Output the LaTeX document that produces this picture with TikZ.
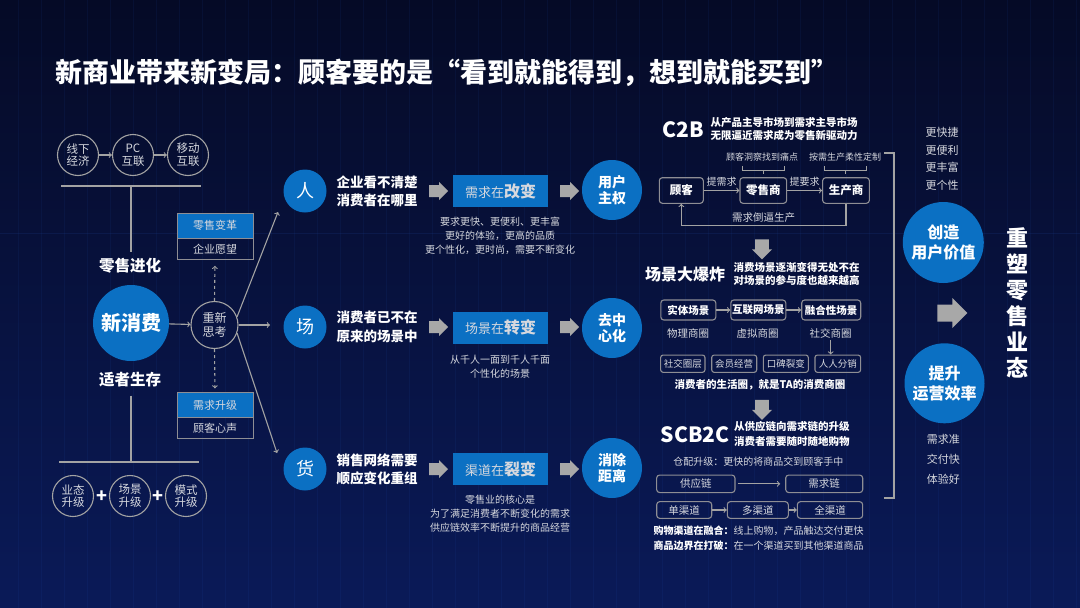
\documentclass[tikz,border=0pt]{standalone}
\usepackage{fontspec}
\setmainfont{Noto Sans CJK SC}
\usepackage{xcolor}
\usetikzlibrary{positioning, shapes.arrows}

\definecolor{bgtop}{HTML}{050A26}
\definecolor{bgbot}{HTML}{0A1A58}
\definecolor{gridblue}{HTML}{2F6BE0}
\definecolor{retailblue}{HTML}{0B70C3}
\definecolor{linegray}{HTML}{A3A3A3}
\definecolor{boxgray}{HTML}{8E8E94}
\definecolor{textgray}{HTML}{D6D8DE}
\definecolor{arrowgray}{HTML}{A8A8A8}

\begin{document}
\begin{tikzpicture}[x=1pt, y=-1pt,
  bar/.style={draw=linegray, line width=1.5pt},
  arrowline/.style={draw=linegray, line width=1.1pt},
  stagecircle/.style={circle, draw=linegray, line width=1.1pt, minimum size=41, inner sep=0,
    align=center, text=textgray, font=\fontsize{11.5}{12.7}\selectfont},
  bigblue/.style={circle, fill=retailblue, inner sep=0, align=center, text=white},
  keycircle/.style={bigblue, minimum size=43, font=\fontsize{18}{18}\selectfont},
  resultcircle/.style={bigblue, minimum size=60, font=\bfseries\fontsize{14}{16}\selectfont},
  valuecircle/.style={bigblue, minimum size=81, font=\bfseries\fontsize{16}{20}\selectfont},
  headbox/.style={fill=retailblue, draw=boxgray, line width=0.8pt, minimum width=76, minimum height=25,
    inner sep=0, text=textgray, font=\fontsize{11}{11}\selectfont},
  bodybox/.style={draw=boxgray, line width=1pt, minimum width=76, minimum height=21,
    inner sep=0, text=textgray, font=\fontsize{11}{11}\selectfont},
  changebox/.style={fill=retailblue, minimum width=95, minimum height=32, inner sep=0,
    text=textgray, font=\fontsize{13}{13}\selectfont},
  rowtext/.style={anchor=west, align=left, inner sep=0, text=white,
    font=\bfseries\fontsize{13.5}{18.3}\selectfont},
  desc/.style={align=center, inner sep=0, text=textgray, font=\fontsize{10}{14}\selectfont},
  blockarrow/.style={single arrow, fill=arrowgray, minimum height=19, minimum width=18,
    single arrow head extend=3, inner sep=5.8},
  downarrow/.style={blockarrow, shape border rotate=270, minimum height=20, minimum width=20,
    inner sep=6.3},
  heading/.style={anchor=west, inner sep=0, text=white, font=\bfseries\fontsize{21}{21}\selectfont},
  subhead/.style={anchor=west, align=left, inner sep=0, text=white},
  rolebox/.style={draw=boxgray, rounded corners=3, line width=1.1pt, minimum height=25.6,
    inner sep=0, text=white, font=\bfseries\fontsize{11.5}{11.5}\selectfont},
  scenebox/.style={rolebox, minimum height=20, font=\bfseries\fontsize{10.5}{10.5}\selectfont},
  tagbox/.style={rolebox, rounded corners=2.5, minimum height=17.3, text=textgray,
    font=\fontsize{9.5}{9.5}\selectfont},
  chainbox/.style={rolebox, minimum height=17.5, text=textgray, font=\fontsize{10.5}{10.5}\selectfont},
  note/.style={inner sep=0, text=textgray, font=\fontsize{10.5}{12}\selectfont},
  smallnote/.style={inner sep=0, text=textgray, font=\fontsize{9}{9}\selectfont},
  plus/.style={inner sep=0, text=white, font=\bfseries\fontsize{18}{18}\selectfont}
]
  \useasboundingbox (0,0) rectangle (1080,608);
  \shade[top color=bgtop, bottom color=bgbot] (0,0) rectangle (1080,608);

  % faint background lines
  \foreach \x in {18,41,...,1080} {
    \draw[gridblue, opacity=0.07, line width=0.6pt] (\x,0) -- (\x,608);
  }
  \draw[gridblue, opacity=0.10, line width=0.6pt] (0,233) -- (1080,233);

  % title
  \node[anchor=west, inner sep=0, text=white, font=\bfseries\fontsize{27}{27}\selectfont] (title)
    at (55,73) {新商业带来新变局：顾客要的是“看到就能得到，想到就能买到”};

  % retail evolution
  \node[stagecircle] (offline) at (78,155) {线下\\经济};
  \node[stagecircle] (pc) at (133,155) {PC\\互联};
  \node[stagecircle] (mobile) at (188,155) {移动\\互联};
  \draw[arrowline, ->] (offline) -- (pc);
  \draw[arrowline, ->] (pc) -- (mobile);

  \coordinate (evoL) at (61,186);
  \coordinate (evoR) at (201,186);
  \coordinate (evoT) at (131,186);
  \draw[bar] (evoL) -- (evoR);
  \node[inner sep=0, text=white, font=\bfseries\fontsize{15.5}{15.5}\selectfont] (evolve) at (130,266) {零售进化};
  \draw[bar, shorten >=6pt] (evoT) -- (evolve.north -| evoT);

  \node[bigblue, minimum size=76, font=\bfseries\fontsize{20}{20}\selectfont] (newcons) at (131,323) {新消费};
  \node[inner sep=0, text=white, font=\bfseries\fontsize{15.5}{15.5}\selectfont] (survive) at (130,380) {适者生存};

  \coordinate (surB) at (131,462);
  \coordinate (surL) at (59,462);
  \coordinate (surR) at (199,462);
  \draw[bar, shorten <=8pt] (survive.south -| surB) -- (surB);
  \draw[bar] (surL) -- (surR);

  \node[stagecircle] (format) at (73,496) {业态\\升级};
  \node[stagecircle] (scenery) at (130,496) {场景\\升级};
  \node[stagecircle] (model) at (186,496) {模式\\升级};
  \node[plus] (plusA) at (101.5,497) {+};
  \node[plus] (plusB) at (158,497) {+};

  % rethink
  \node[stagecircle, minimum size=47, font=\fontsize{12}{14.7}\selectfont] (think) at (214.5,325) {重新\\思考};
  \draw[arrowline, ->] (newcons) -- (think);

  \node[headbox] (reformhead) at (215,225.8) {零售变革};
  \node[bodybox] (reformbody) at (215,248.8) {企业愿望};
  \node[headbox] (demandhead) at (215,405.3) {需求升级};
  \node[bodybox] (demandbody) at (215,428.3) {顾客心声};
  \draw[arrowline, dashed, ->, shorten >=6pt] (think.north) -- (reformbody.south);
  \draw[arrowline, dashed, ->, shorten >=4pt] (think.south) -- (demandhead.north);

  \coordinate (fanA) at (278,212);
  \coordinate (fanB) at (270,325);
  \coordinate (fanC) at (277,453);
  \draw[arrowline, ->] (think.20) -- (fanA);
  \draw[arrowline, ->] (think.east) -- (fanB);
  \draw[arrowline, ->] (think.-20) -- (fanC);

  % people
  \node[keycircle] (people) at (305,191) {人};
  \node[rowtext] (peopletxt) at (336.5,191) {企业看不清楚\\消费者在哪里};
  \node[blockarrow] (peoplearrA) at (435.5,191) {};
  \node[changebox] (peoplebox) at (500.5,191) {需求在{\bfseries\fontsize{16}{16}\selectfont 改变}};
  \node[blockarrow] (peoplearrB) at (566.5,191) {};
  \node[resultcircle] (peopleres) at (612,190) {用户\\主权};
  \node[desc] (peopledesc) at (500,236) {要求更快、更便利、更丰富\\更好的体验，更高的品质\\更个性化，更时尚，需要不断变化};

  % place
  \node[keycircle] (place) at (305,327) {场};
  \node[rowtext] (placetxt) at (336.5,327) {消费者已不在\\原来的场景中};
  \node[blockarrow] (placearrA) at (435.5,327) {};
  \node[changebox] (placebox) at (500.5,327.5) {场景在{\bfseries\fontsize{16}{16}\selectfont 转变}};
  \node[blockarrow] (placearrB) at (566.5,327) {};
  \node[resultcircle] (placeres) at (612,328) {去中\\心化};
  \node[desc] (placedesc) at (500,367) {从千人一面到千人千面\\个性化的场景};

  % goods
  \node[keycircle] (goods) at (305,469) {货};
  \node[rowtext] (goodstxt) at (336.5,469.5) {销售网络需要\\顺应变化重组};
  \node[blockarrow] (goodsarrA) at (435.5,469) {};
  \node[changebox] (goodsbox) at (500.5,469) {渠道在{\bfseries\fontsize{16}{16}\selectfont 裂变}};
  \node[blockarrow] (goodsarrB) at (566.5,469) {};
  \node[resultcircle] (goodsres) at (612,468) {消除\\距离};
  \node[desc] (goodsdesc) at (500,513.3) {零售业的核心是\\为了满足消费者不断变化的需求\\供应链效率不断提升的商品经营};

  % C2B
  \node[heading] (c2b) at (662,130) {C2B};
  \node[subhead, font=\bfseries\fontsize{10.5}{12.6}\selectfont] (c2btxt) at (710.5,129.3)
    {从产品主导市场到需求主导市场\\无限逼近需求成为零售新驱动力};
  \node[smallnote] (insight) at (762,156.7) {顾客洞察找到痛点};
  \node[smallnote] (flexible) at (845,156.7) {按需生产柔性定制};
  \draw[arrowline, line width=0.9pt] (742,166) -- (742,170.5) -- (784,170.5) -- (784,166);
  \draw[arrowline, line width=0.9pt] (763,170.5) -- (763,173.5);
  \draw[arrowline, line width=0.9pt] (824.5,166) -- (824.5,170.5) -- (866.5,170.5) -- (866.5,166);
  \draw[arrowline, line width=0.9pt] (845.5,170.5) -- (845.5,173.5);

  \node[rolebox, minimum width=44] (customer) at (681.3,190.5) {顾客};
  \node[rolebox, minimum width=46.7] (retailer) at (763.3,190.5) {零售商};
  \node[rolebox, minimum width=46.7] (producer) at (846,190.5) {生产商};
  \draw[arrowline, ->] (customer) -- node[smallnote, above=4pt, font=\fontsize{10}{10}\selectfont] {提需求} (retailer);
  \draw[arrowline, ->] (retailer) -- node[smallnote, above=4pt, font=\fontsize{10}{10}\selectfont] {提要求} (producer);
  \draw[arrowline, ->] (producer.south) -- ++(0,22)
    -| node[smallnote, above=3pt, pos=0.25, font=\fontsize{10.5}{10.5}\selectfont] {需求倒逼生产} (customer.south);

  \node[downarrow] (c2bdown) at (762,246) {};

  % scene explosion
  \node[inner sep=0, anchor=west, text=white, font=\bfseries\fontsize{16}{16}\selectfont] (boom) at (645,274.3) {场景大爆炸};
  \node[subhead, font=\bfseries\fontsize{10.5}{12.6}\selectfont] (boomtxt) at (733.3,273.8)
    {消费场景逐渐变得无处不在\\对场景的参与度也越来越高};
  \node[scenebox, minimum width=55] (physical) at (688.3,310) {实体场景};
  \node[scenebox, minimum width=55] (online) at (758.3,310) {互联网场景};
  \node[scenebox, minimum width=59] (fusion) at (831.2,310) {融合性场景};
  \draw[arrowline, ->] (physical) -- (online);
  \draw[arrowline, ->] (online) -- (fusion);
  \node[note] (physicallbl) at (688,333.3) {物理商圈};
  \node[note] (onlinelbl) at (757.5,333.3) {虚拟商圈};
  \node[note] (sociallbl) at (830.7,333.3) {社交商圈};

  \node[tagbox, minimum width=44.3] (circle) at (682.8,363.7) {社交圈层};
  \node[tagbox, minimum width=45] (member) at (734.2,363.7) {会员经营};
  \node[tagbox, minimum width=45] (wordmouth) at (785.8,363.7) {口碑裂变};
  \node[tagbox, minimum width=45.7] (resell) at (837.8,363.7) {人人分销};
  \draw[arrowline, ->, shorten <=2pt] (sociallbl.south) -- (sociallbl.south |- resell.north);
  \node[inner sep=0, text=white, font=\bfseries\fontsize{10.5}{10.5}\selectfont] (lifecircle) at (760,385)
    {消费者的生活圈，就是TA的消费商圈};

  \node[downarrow] (scenedown) at (762,406.5) {};

  % SCB2C
  \node[heading] (scb2c) at (660.5,435) {SCB2C};
  \node[subhead, font=\bfseries\fontsize{10.5}{15}\selectfont] (scb2ctxt) at (734,434.2)
    {从供应链向需求链的升级\\消费者需要随时随地购物};
  \node[note, font=\fontsize{10}{10}\selectfont] (warehouse) at (758.3,461.7) {仓配升级：更快的将商品交到顾客手中};
  \node[chainbox, minimum width=78.3] (supply) at (695.8,483.8) {供应链};
  \node[chainbox, minimum width=77] (demand) at (824.2,483.8) {需求链};
  \draw[arrowline, ->, shorten <=2pt, shorten >=5pt] (supply) -- (demand);
  \node[chainbox, minimum width=55, minimum height=16.7] (single) at (684.2,510) {单渠道};
  \node[chainbox, minimum width=61, minimum height=16.7] (multi) at (757.8,510) {多渠道};
  \node[chainbox, minimum width=65.3, minimum height=16.7] (omni) at (830,510) {全渠道};
  \draw[arrowline, ->] (single) -- (multi);
  \draw[arrowline, ->] (multi) -- (omni);
  \node[note, anchor=west, font=\fontsize{10}{10}\selectfont] (mergeline) at (653.3,530.7)
    {{\bfseries\color{white}购物渠道在融合：}线上购物，产品触达交付更快};
  \node[note, anchor=west, font=\fontsize{10}{10}\selectfont] (borderline) at (653.3,546)
    {{\bfseries\color{white}商品边界在打破：}在一个渠道买到其他渠道商品};

  % bracket
  \coordinate (brTL) at (884,153);
  \coordinate (brT) at (894,153);
  \coordinate (brB) at (894,498);
  \coordinate (brBL) at (884,498);
  \draw[bar, line width=2pt] (brTL) -- (brT) -- (brB) -- (brBL);

  % value side
  \foreach \t [count=\i] in {更快捷,更便利,更丰富,更个性} {
    \node[note, font=\fontsize{11}{11}\selectfont] (gain\i) at (942,115.3+17.4*\i) {\t};
  }
  \node[valuecircle] (uservalue) at (943.3,242.5) {创造\\用户价值};
  \node[blockarrow, minimum height=30, minimum width=30, single arrow head extend=6.5, inner sep=8.3]
    (reshapearr) at (948,313) {};
  \node[valuecircle, minimum size=80] (efficiency) at (944.5,383.3) {提升\\运营效率};
  \foreach \t [count=\i] in {需求准,交付快,体验好} {
    \node[note, font=\fontsize{11}{11}\selectfont] (result\i) at (943.3,419.3+20*\i) {\t};
  }
  \node[align=center, inner sep=0, text=white, font=\bfseries\fontsize{22}{26}\selectfont] (reshape)
    at (1017,303) {重\\塑\\零\\售\\业\\态};
\end{tikzpicture}
\end{document}
